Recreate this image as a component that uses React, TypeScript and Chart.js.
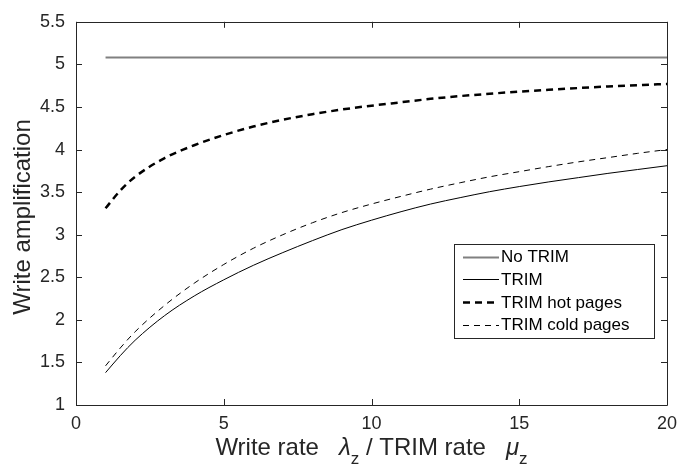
import React, { useEffect, useRef } from "react";
import { Chart, registerables } from "chart.js";

Chart.register(...registerables);

const X_VALUES = [1, 1.5, 2, 3, 4, 5, 6, 7, 8, 9, 10, 11, 12, 13, 14, 15, 16, 17, 18, 19, 20];
const NO_TRIM_X = [1, 20];
const NO_TRIM = [5.08, 5.08];
const TRIM = [1.38, 1.58, 1.76, 2.05, 2.28, 2.47, 2.64, 2.79, 2.93, 3.06, 3.17, 3.27, 3.36, 3.435, 3.505, 3.565, 3.62, 3.67, 3.72, 3.765, 3.81];
const TRIM_HOT = [3.31, 3.52, 3.68, 3.9, 4.05, 4.17, 4.27, 4.35, 4.415, 4.47, 4.515, 4.555, 4.595, 4.628, 4.655, 4.68, 4.702, 4.722, 4.74, 4.756, 4.77];
const TRIM_COLD = [1.46, 1.67, 1.86, 2.17, 2.43, 2.65, 2.84, 3.0, 3.14, 3.26, 3.36, 3.45, 3.535, 3.61, 3.68, 3.74, 3.8, 3.855, 3.905, 3.955, 4.0];
const SERIES_LABELS = ["No TRIM", "TRIM", "TRIM hot pages", "TRIM cold pages"];
const X_TICKS = [0, 5, 10, 15, 20];
const Y_TICKS = [1, 1.5, 2, 2.5, 3, 3.5, 4, 4.5, 5, 5.5];
const Y_LABEL = "Write amplification";

const FONT = "'Liberation Sans', Arial, Helvetica, sans-serif";
const AXIS_COLOR = "#262626";

const toPoints = (xs: number[], ys: number[]) => xs.map((x, i) => ({ x, y: ys[i] }));

const decorPlugin = {
  id: "decor",
  afterDraw(chart: any) {
    const { ctx, chartArea } = chart;
    const { left, right, top, bottom } = chartArea;
    const xs = chart.scales.x;
    const ys = chart.scales.y;
    ctx.save();
    // box
    ctx.strokeStyle = AXIS_COLOR;
    ctx.lineWidth = 1;
    ctx.setLineDash([]);
    ctx.beginPath();
    ctx.rect(Math.round(left) + 0.5, Math.round(top) + 0.5, Math.round(right - left), Math.round(bottom - top));
    ctx.stroke();
    // inward ticks
    const tl = 6;
    ctx.beginPath();
    X_TICKS.forEach((v) => {
      const px = Math.round(xs.getPixelForValue(v)) + 0.5;
      ctx.moveTo(px, bottom);
      ctx.lineTo(px, bottom - tl);
      ctx.moveTo(px, top);
      ctx.lineTo(px, top + tl);
    });
    Y_TICKS.forEach((v) => {
      const py = Math.round(ys.getPixelForValue(v)) + 0.5;
      ctx.moveTo(left, py);
      ctx.lineTo(left + tl, py);
      ctx.moveTo(right, py);
      ctx.lineTo(right - tl, py);
    });
    ctx.stroke();

    // legend
    const lx = 454, ly = 244, lw = 200, lh = 94;
    ctx.fillStyle = "#ffffff";
    ctx.fillRect(lx, ly, lw, lh);
    ctx.strokeStyle = AXIS_COLOR;
    ctx.lineWidth = 1;
    ctx.strokeRect(lx + 0.5, ly + 0.5, lw, lh);
    ctx.font = `17px ${FONT}`;
    ctx.textBaseline = "middle";
    ctx.textAlign = "left";
    chart.data.datasets.forEach((ds: any, i: number) => {
      const cy = ly + 12.5 + i * 22.7;
      ctx.strokeStyle = ds.borderColor;
      ctx.lineWidth = ds.borderWidth;
      ctx.setLineDash(ds.borderDash || []);
      ctx.beginPath();
      ctx.moveTo(lx + 9, Math.round(cy) + 0.5);
      ctx.lineTo(lx + 45, Math.round(cy) + 0.5);
      ctx.stroke();
      ctx.setLineDash([]);
      ctx.fillStyle = "#000000";
      ctx.fillText(ds.label, lx + 47, cy + 1);
    });

    // y label
    ctx.save();
    ctx.translate(30, 217);
    ctx.rotate(-Math.PI / 2);
    ctx.font = `24px ${FONT}`;
    ctx.fillStyle = AXIS_COLOR;
    ctx.textAlign = "center";
    ctx.textBaseline = "alphabetic";
    ctx.fillText(Y_LABEL, 0, 0);
    ctx.restore();

    // x label with subscripts
    const parts = [
      { t: "Write rate   ", f: `24px ${FONT}`, dy: 0 },
      { t: "\u03BB", f: `italic 24px ${FONT}`, dy: 0 },
      { t: "z", f: `17px ${FONT}`, dy: 9 },
      { t: " / TRIM rate   ", f: `24px ${FONT}`, dy: 0 },
      { t: "\u03BC", f: `italic 24px ${FONT}`, dy: 0 },
      { t: "z", f: `17px ${FONT}`, dy: 9 },
    ];
    let total = 0;
    parts.forEach((p) => {
      ctx.font = p.f;
      total += ctx.measureText(p.t).width;
    });
    let cx = (left + right) / 2 - total / 2;
    const base = 455;
    ctx.fillStyle = AXIS_COLOR;
    ctx.textAlign = "left";
    ctx.textBaseline = "alphabetic";
    parts.forEach((p) => {
      ctx.font = p.f;
      ctx.fillText(p.t, cx, base + p.dy);
      cx += ctx.measureText(p.t).width;
    });
    ctx.restore();
  },
};

export default function App() {
  const canvasRef = useRef<HTMLCanvasElement | null>(null);

  useEffect(() => {
    const canvas = canvasRef.current;
    if (!canvas) return;
    const chart = new Chart(canvas, {
      type: "line",
      data: {
        datasets: [
          {
            label: SERIES_LABELS[0],
            data: toPoints(NO_TRIM_X, NO_TRIM),
            borderColor: "#808080",
            borderWidth: 2,
            pointRadius: 0,
            fill: false,
          },
          {
            label: SERIES_LABELS[1],
            data: toPoints(X_VALUES, TRIM),
            borderColor: "#000000",
            borderWidth: 1,
            pointRadius: 0,
            cubicInterpolationMode: "monotone",
            fill: false,
          },
          {
            label: SERIES_LABELS[2],
            data: toPoints(X_VALUES, TRIM_HOT),
            borderColor: "#000000",
            borderWidth: 2.5,
            borderDash: [7, 5],
            pointRadius: 0,
            cubicInterpolationMode: "monotone",
            fill: false,
          },
          {
            label: SERIES_LABELS[3],
            data: toPoints(X_VALUES, TRIM_COLD),
            borderColor: "#000000",
            borderWidth: 1,
            borderDash: [6, 5],
            pointRadius: 0,
            cubicInterpolationMode: "monotone",
            fill: false,
          },
        ],
      },
      options: {
        responsive: false,
        animation: false,
        layout: { padding: { top: 14, right: 24, left: 0, bottom: 0 } },
        plugins: { legend: { display: false }, tooltip: { enabled: false }, title: { display: false } },
        scales: {
          x: {
            type: "linear",
            min: 0,
            max: 20,
            afterBuildTicks: (scale: any) => {
              scale.ticks = X_TICKS.map((v) => ({ value: v }));
            },
            afterFit: (scale: any) => {
              scale.height = 68;
            },
            grid: { display: false, drawTicks: false },
            border: { display: false },
            ticks: {
              padding: 8,
              color: AXIS_COLOR,
              font: { family: FONT, size: 18 },
              maxRotation: 0,
              callback: (v: any) => String(v),
            },
          },
          y: {
            type: "linear",
            min: 1,
            max: 5.5,
            afterBuildTicks: (scale: any) => {
              scale.ticks = Y_TICKS.map((v) => ({ value: v }));
            },
            afterFit: (scale: any) => {
              scale.width = 76;
            },
            grid: { display: false, drawTicks: false },
            border: { display: false },
            ticks: {
              padding: 11,
              color: AXIS_COLOR,
              font: { family: FONT, size: 18 },
              callback: (v: any) => String(v),
            },
          },
        },
      },
      plugins: [decorPlugin],
    } as any);
    return () => chart.destroy();
  }, []);

  return (
    <div style={{ position: "fixed", left: 0, top: 0, width: 691, height: 473, background: "#ffffff" }}>
      <canvas ref={canvasRef} width={691} height={473} style={{ width: 691, height: 473, display: "block" }} />
    </div>
  );
}
